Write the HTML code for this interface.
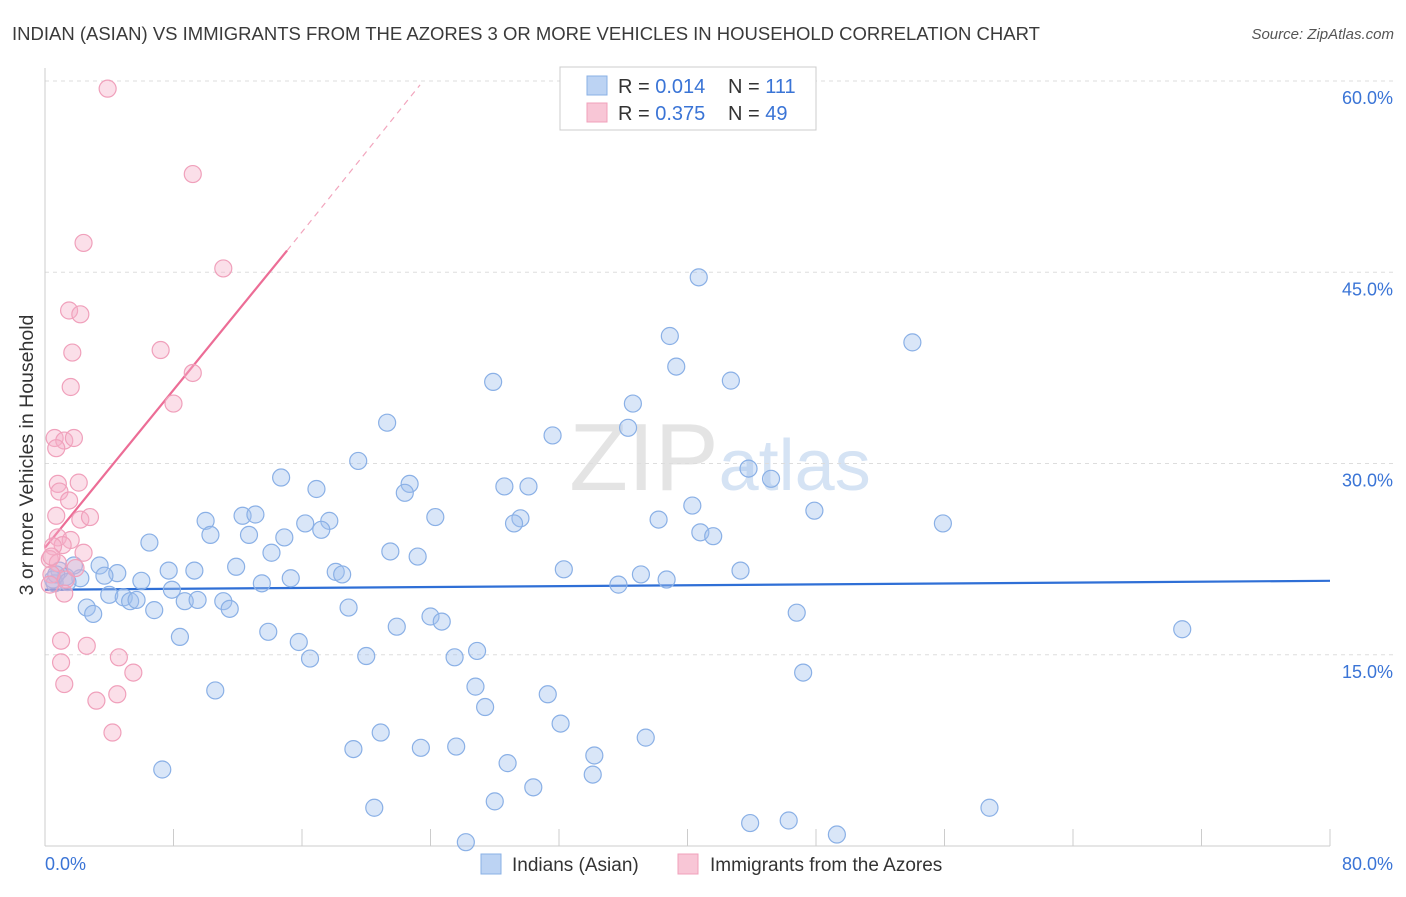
<!DOCTYPE html>
<html><head><meta charset="utf-8">
<style>
body{margin:0;background:#fff;font-family:"Liberation Sans",sans-serif;}
svg text{font-family:"Liberation Sans",sans-serif;}
</style></head>
<body>
<svg id="chart" width="1406" height="892" xmlns="http://www.w3.org/2000/svg">
<text x="12" y="40" font-size="18.5" fill="#3a3a3a">INDIAN (ASIAN) VS IMMIGRANTS FROM THE AZORES 3 OR MORE VEHICLES IN HOUSEHOLD CORRELATION CHART</text>
<text x="1394" y="39" font-size="15" fill="#555" font-style="italic" text-anchor="end">Source: ZipAtlas.com</text>
<text transform="translate(33,455) rotate(-90)" font-size="19.5" fill="#333" text-anchor="middle">3 or more Vehicles in Household</text>
<text x="720" y="490" font-size="96" fill="#e4e4e4" text-anchor="middle" font-family="Liberation Serif">ZIP<tspan fill="#d5e3f4" font-family="Liberation Sans" font-size="72">atlas</tspan></text>
<g id="grid"></g><g id="axes"></g><g id="lines"></g><g id="pts"></g>
<g>
<rect x="560" y="67" width="256" height="63" fill="#fff" stroke="#ccc"/>
<rect x="587" y="76" width="20" height="19" fill="#bcd3f3" stroke="#8ab0e6"/>
<rect x="587" y="103" width="20" height="19" fill="#f8c6d6" stroke="#f0a0bb"/>
<text x="618" y="93" font-size="20" fill="#333">R = <tspan fill="#3a74d6">0.014</tspan></text>
<text x="728" y="93" font-size="20" fill="#333">N = <tspan fill="#3a74d6">111</tspan></text>
<text x="618" y="120" font-size="20" fill="#333">R = <tspan fill="#3a74d6">0.375</tspan></text>
<text x="728" y="120" font-size="20" fill="#333">N = <tspan fill="#3a74d6">49</tspan></text>
</g>
<g>
<rect x="481" y="854" width="20" height="20" fill="#bcd3f3" stroke="#8ab0e6"/>
<text x="512" y="871" font-size="19" fill="#333">Indians (Asian)</text>
<rect x="678" y="854" width="20" height="20" fill="#f8c6d6" stroke="#f0a0bb"/>
<text x="710" y="871" font-size="19" fill="#333">Immigrants from the Azores</text>
</g>
</svg>
<script>
const yTicks=[15,30,45,60];
const xTickLabels=["0.0%","80.0%"];
const blueX=[40.7,54.0,38.9,39.3,42.7,27.9,36.6,36.3,21.3,31.6,19.5,43.8,45.2,14.7,16.9,22.7,22.4,28.6,30.1,40.3,47.9,55.9,24.3,29.6,29.2,38.2,12.3,13.1,10.0,17.7,16.2,17.2,10.3,12.7,14.9,40.8,41.6,6.5,21.5,14.1,23.2,32.3,43.3,37.1,38.7,35.7,11.9,9.3,7.7,18.1,18.5,15.3,13.5,4.5,3.4,3.7,2.2,6.0,7.9,1.3,0.9,4.0,4.9,5.3,5.7,8.7,9.5,11.1,11.5,6.8,2.6,3.0,18.9,24.0,24.7,21.9,46.8,70.8,13.9,8.4,15.8,16.5,20.0,25.5,26.9,47.2,10.6,26.8,31.3,27.4,32.1,20.9,37.4,19.2,23.4,25.6,34.2,28.8,7.3,34.1,30.4,28.0,20.5,58.8,43.9,46.3,49.3,26.2,0.6,0.5,0.7,1.8,1.4];
const blueY=[44.6,39.5,40.0,37.6,36.5,36.4,34.7,32.8,33.2,32.2,30.2,29.6,28.8,28.9,28.0,28.4,27.7,28.2,28.2,26.7,26.3,25.3,25.8,25.7,25.3,25.6,25.9,26.0,25.5,25.5,25.3,24.8,24.4,24.4,24.2,24.6,24.3,23.8,23.1,23.0,22.7,21.7,21.6,21.3,20.9,20.5,21.9,21.6,21.6,21.5,21.3,21.0,20.6,21.4,22.0,21.2,21.0,20.8,20.1,21.1,21.6,19.7,19.5,19.2,19.3,19.2,19.3,19.2,18.6,18.5,18.7,18.2,18.7,18.0,17.6,17.2,18.3,17.0,16.8,16.4,16.0,14.7,14.9,14.8,15.3,13.6,12.2,12.5,11.9,10.9,9.6,8.9,8.5,7.6,7.7,7.8,7.1,6.5,6.0,5.6,4.6,3.5,3.0,3.0,1.8,2.0,0.9,0.3,20.6,20.9,21.3,22.0,20.7];
const pinkX=[3.9,9.2,2.4,11.1,1.5,2.2,1.7,7.2,9.2,1.6,8.0,0.6,1.2,1.8,0.7,2.1,0.8,0.9,1.5,0.7,2.2,2.8,0.8,1.6,1.1,0.5,2.4,0.3,0.8,0.4,1.3,1.2,0.3,1.0,2.6,4.6,1.0,5.5,1.2,4.5,3.2,4.2,1.9,0.4];
const pinkY=[59.4,52.7,47.3,45.3,42.0,41.7,38.7,38.9,37.1,36.0,34.7,32.0,31.8,32.0,31.2,28.5,28.4,27.8,27.1,25.9,25.6,25.8,24.2,24.0,23.6,23.5,23.0,22.5,22.2,21.3,20.9,19.8,20.5,16.1,15.7,14.8,14.4,13.6,12.7,11.9,11.4,8.9,21.8,22.7];
const blueFit=[20.1,20.8];
const pinkFit=[23.4,46.7,15.07,59.7,23.35];

const X=v=>45+v*(1330-45)/80, Y=v=>846-v*(846-81)/60;
const NS="http://www.w3.org/2000/svg";
function mk(tag,attrs,parent){const e=document.createElementNS(NS,tag);for(const k in attrs)e.setAttribute(k,attrs[k]);parent.appendChild(e);return e;}
const grid=document.getElementById('grid'),axes=document.getElementById('axes'),lines=document.getElementById('lines'),pts=document.getElementById('pts');
yTicks.forEach(t=>{
 const l=mk('line',{x1:45,x2:1394,y1:Y(t),y2:Y(t),stroke:'#ddd','stroke-dasharray':'4,4'},grid);
 
 
 const tx=mk('text',{x:1393,y:Y(t)+23,'font-size':18,fill:'#3a74d6','text-anchor':'end'},axes);
 tx.textContent=t.toFixed(1)+'%';
 
 
});
const ax=mk('line',{x1:45,x2:1330,y1:846,y2:846,stroke:'#ccc'},axes);


const ay=mk('line',{x1:45,x2:45,y1:68,y2:846,stroke:'#ccc'},axes);


for(let i=0;i<=10;i++){const tk=mk('line',{x1:X(i*8),x2:X(i*8),y1:829,y2:846,stroke:'#ccc'},axes);
 
 }
const xl0=mk('text',{x:45,y:870,'font-size':18,fill:'#3a74d6'},axes);xl0.textContent=xTickLabels[0];


const xl1=mk('text',{x:1393,y:870,'font-size':18,fill:'#3a74d6','text-anchor':'end'},axes);xl1.textContent=xTickLabels[1];


blueX.forEach((x,i)=>{const c=mk('circle',{cx:X(x),cy:Y(blueY[i]),r:8.5,fill:'rgba(160,192,238,0.4)',stroke:'#8ab0e6','stroke-width':1.2},pts);
 
 });
pinkX.forEach((x,i)=>{const c=mk('circle',{cx:X(x),cy:Y(pinkY[i]),r:8.5,fill:'rgba(246,176,200,0.4)',stroke:'#f0a0bb','stroke-width':1.2},pts);
 
 });
const bl=mk('line',{x1:X(0),y1:Y(blueFit[0]),x2:X(80),y2:Y(blueFit[1]),stroke:'#2f6fd6','stroke-width':2.2},lines);


const pl=mk('line',{x1:X(0),y1:Y(pinkFit[0]),x2:X(pinkFit[2]),y2:Y(pinkFit[1]),stroke:'#ec6d96','stroke-width':2.2},lines);


const pd=mk('line',{x1:X(pinkFit[2]),y1:Y(pinkFit[1]),x2:X(pinkFit[4]),y2:Y(pinkFit[3]),stroke:'#f2a5bd','stroke-width':1.2,'stroke-dasharray':'6,5'},lines);


</script>
</body></html>
